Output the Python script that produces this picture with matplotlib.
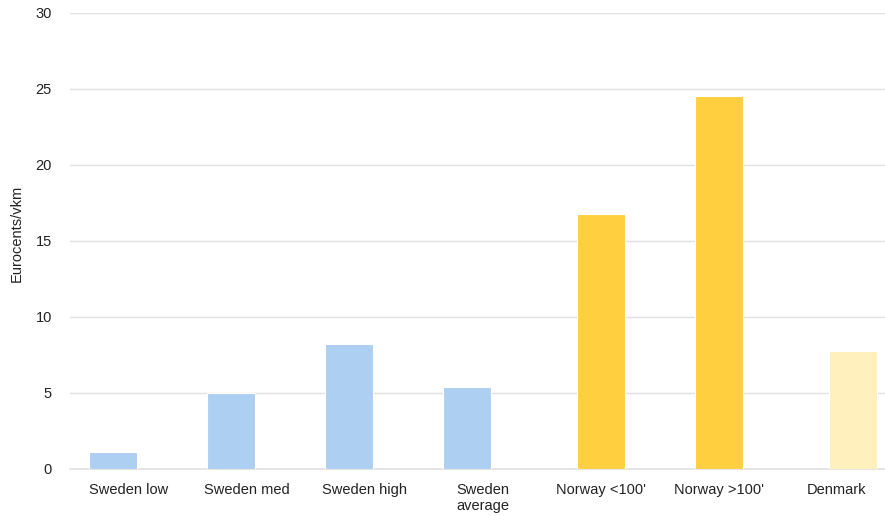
import matplotlib.pyplot as plt
import numpy as np

# -----------------------------------------------------------------------------
# Data
# -----------------------------------------------------------------------------
categories = ["Sweden low", "Sweden med", "Sweden high", "Sweden\naverage",
              "Norway <100'", "Norway >100'", "Denmark"]
values = [1.15, 5.0, 8.25, 5.4, 16.75, 24.55, 7.75]
groups = ["sweden", "sweden", "sweden", "sweden", "norway", "norway", "denmark"]

group_colors = {"sweden": "#adcff2", "norway": "#ffcf40", "denmark": "#fff0bd"}
group_offsets = {"sweden": -0.136, "norway": 0.0, "denmark": 0.136}

plt.rcParams["font.family"] = ["Liberation Sans", "DejaVu Sans"]

fig = plt.figure(figsize=(8.85, 5.16), dpi=100)
# plot area runs a bit past the right edge, as in the reference
ax = fig.add_axes([70 / 885, 47 / 516, 826 / 885, 456 / 516])

x = np.arange(len(categories))
for i, (val, grp) in enumerate(zip(values, groups)):
    ax.bar(x[i] + group_offsets[grp], val, width=0.41,
           color=group_colors[grp], edgecolor="white", linewidth=0.8, zorder=3)

ax.set_xlim(-0.5, len(categories) - 0.5)
ax.set_ylim(0, 30)
ax.set_yticks(range(0, 31, 5))
ax.set_xticks(x)
ax.set_xticklabels(categories, fontsize=10.5, color="#222222", linespacing=1.15)
ax.tick_params(axis="y", labelsize=10.5, labelcolor="#222222", length=0, pad=13)
ax.tick_params(axis="x", length=0, pad=10)

ax.grid(axis="y", color="#e0e0e0", linewidth=1, zorder=0)
for side in ["top", "right", "left"]:
    ax.spines[side].set_visible(False)
ax.spines["bottom"].set_color("#e0e0e0")
ax.spines["bottom"].set_linewidth(1.2)

fig.text(17 / 885, (516 - 233) / 516, "Eurocents/vkm", rotation=90, fontsize=10.5,
         color="#222222", ha="center", va="center")

fig.savefig("out.png", dpi=100)
